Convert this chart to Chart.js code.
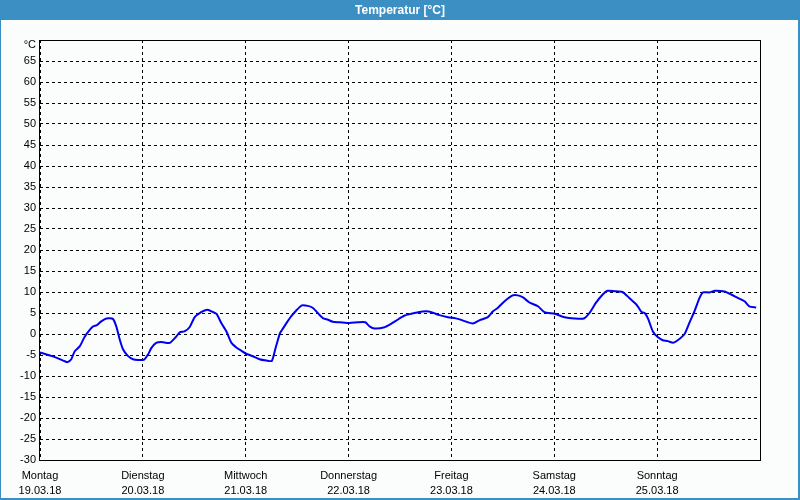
<!DOCTYPE html>
<html>
<head>
<meta charset="utf-8">
<script src="https://cdn.jsdelivr.net/npm/chart.js@4/dist/chart.umd.min.js"></script>
<style>
  html, body { margin: 0; padding: 0; background: #fbfdfc; }
  #wrap { width: 800px; height: 500px; position: relative; }
</style>
</head>
<body>
<div id="wrap"><canvas id="c" width="800" height="500"></canvas></div>
<script>
// Hours since Monday 19.03.18 00:00
const hours = [0, 2.6, 4.2, 5.8, 6.4, 7.3, 8.1, 9.3, 10.4, 11.6, 12.4, 13.3, 14.3, 15.5, 17.0, 17.8, 18.6, 19.4, 20.5, 21.7, 22.9,
  24.3, 25.2, 26.0, 27.1, 28.3, 30.3, 31.8, 32.6, 33.7, 34.9, 36.1, 37.6, 39.0, 40.0, 41.2, 42.3, 43.5, 44.6, 45.8, 47.0,
  48.1, 49.7, 51.2, 52.8, 54.1, 55.0, 56.0, 56.5, 57.5, 58.6, 59.8, 61.1, 62.5, 63.7, 64.8, 66.0, 67.2, 68.3, 69.9,
  72.2, 74.2, 75.9, 76.9, 78.1, 80.4, 81.9, 83.3, 84.4, 85.1, 86.6, 88.2, 90.1, 91.3, 93.2, 95.2,
  97.5, 99.5, 101.0, 102.6, 104.5, 105.7, 106.8, 108.4, 110.3, 111.5, 112.7, 114.2, 116.2, 117.7,
  120.1, 122.4, 124.7, 126.9, 128.2, 129.7, 131.3, 132.4, 134.0, 135.9, 137.5, 139.1, 139.6, 140.3, 141.1, 141.9, 143.0,
  144.2, 145.3, 146.5, 147.7, 148.8, 150.4, 151.5, 152.7, 153.9, 154.7, 156.2, 157.5, 159.7, 161.3, 162.8, 164.4, 165.5, 167.1];
const temps = [-4.4, -5.2, -5.8, -6.5, -6.7, -6.0, -4.1, -2.9, -0.7, 1.0, 1.8, 2.1, 3.0, 3.7, 3.6, 1.8, -1.3, -3.7, -5.2, -6.0, -6.2,
  -6.1, -4.9, -3.3, -2.1, -1.9, -2.1, -0.6, 0.4, 0.6, 1.6, 4.0, 5.2, 5.8, 5.4, 4.8, 2.6, 0.6, -2.0, -3.2, -4.0,
  -4.7, -5.3, -6.0, -6.3, -6.4, -3.2, 0.2, 1.0, 2.6, 4.2, 5.6, 6.8, 6.7, 6.2, 5.0, 3.8, 3.4, 2.9, 2.8,
  2.6, 2.8, 2.8, 1.8, 1.3, 1.6, 2.4, 3.3, 4.0, 4.4, 4.8, 5.2, 5.4, 5.2, 4.5, 4.0,
  3.6, 2.9, 2.5, 3.3, 4.0, 5.4, 6.2, 7.8, 9.2, 9.2, 8.7, 7.5, 6.6, 5.2,
  4.8, 4.0, 3.7, 3.7, 5.0, 7.4, 9.4, 10.3, 10.2, 10.0, 8.6, 7.1, 6.4, 5.3, 5.0, 3.6, 0.6,
  -0.8, -1.5, -1.7, -2.1, -1.5, 0.0, 2.6, 5.4, 8.6, 9.9, 9.9, 10.3, 10.1, 9.4, 8.6, 7.8, 6.6, 6.3];
const dayNames = ["Montag", "Dienstag", "Mittwoch", "Donnerstag", "Freitag", "Samstag", "Sonntag"];
const dayDates = ["19.03.18", "20.03.18", "21.03.18", "22.03.18", "23.03.18", "24.03.18", "25.03.18"];
const yUnitLabel = "°C";
const chartTitle = "Temperatur [°C]";

const BLUE = '#3c8fc3';
const FONT = '"Liberation Sans", Arial, sans-serif';

const framePlugin = {
  id: 'frame',
  beforeDraw(chart) {
    const ctx = chart.ctx;
    ctx.save();
    ctx.fillStyle = '#fbfdfc';
    ctx.fillRect(0, 0, chart.width, chart.height);
    ctx.fillStyle = BLUE;
    ctx.fillRect(0, 0, chart.width, 20);
    ctx.fillRect(0, 0, 1, chart.height);
    ctx.fillRect(chart.width - 2, 0, 2, chart.height);
    ctx.fillRect(0, chart.height - 2, chart.width, 2);
    ctx.fillStyle = '#ffffff';
    ctx.font = 'bold 12px ' + FONT;
    ctx.textAlign = 'center';
    ctx.textBaseline = 'middle';
    ctx.fillText(chartTitle, chart.width / 2, 10.5);
    ctx.restore();
  },
  afterDraw(chart) {
    const a = chart.chartArea;
    const ctx = chart.ctx;
    ctx.save();
    ctx.strokeStyle = '#000';
    ctx.lineWidth = 1;
    ctx.setLineDash([]);
    ctx.strokeRect(Math.round(a.left) - 0.5, Math.round(a.top) + 0.5, Math.round(a.right - a.left) + 1, Math.round(a.bottom - a.top));
    ctx.restore();
  }
};

new Chart(document.getElementById('c'), {
  type: 'line',
  data: {
    datasets: [{
      data: hours.map((h, i) => ({ x: h, y: temps[i] })),
      borderColor: '#0000f0',
      borderWidth: 2,
      pointRadius: 0,
      tension: 0.2,
      fill: false
    }]
  },
  options: {
    responsive: false,
    animation: false,
    layout: { padding: { top: 40, right: 40, bottom: 0, left: 0 } },
    plugins: { legend: { display: false }, tooltip: { enabled: false }, title: { display: false } },
    scales: {
      x: {
        type: 'linear',
        min: 0, max: 168,
        afterFit(s) { s.height = 40; },
        afterBuildTicks(s) { s.ticks = [0, 24, 48, 72, 96, 120, 144, 168].map(v => ({ value: v })); },
        grid: { color: '#000', lineWidth: 1, drawTicks: false },
        border: { display: false, dash: [3, 3] },
        ticks: {
          autoSkip: false, maxRotation: 0,
          padding: 9,
          color: '#000',
          font: { family: FONT, size: 11, lineHeight: 1.35 },
          callback(v) { const i = Math.round(v / 24); return i < dayNames.length ? [dayNames[i], dayDates[i]] : ''; }
        }
      },
      y: {
        min: -30, max: 70,
        afterFit(s) { s.width = 40; },
        grid: { color: '#000', lineWidth: 1, drawTicks: false },
        border: { display: false, dash: [3, 3] },
        ticks: {
          autoSkip: false,
          stepSize: 5,
          padding: 4,
          color: '#000',
          font(c) {
            const top = c.tick && c.tick.value === 70;
            return { family: FONT, size: 11, lineHeight: top ? '10px' : 1.2 };
          },
          callback(v) { return v === 70 ? ['', yUnitLabel] : String(v); }
        }
      }
    }
  },
  plugins: [framePlugin]
});
</script>
</body>
</html>
